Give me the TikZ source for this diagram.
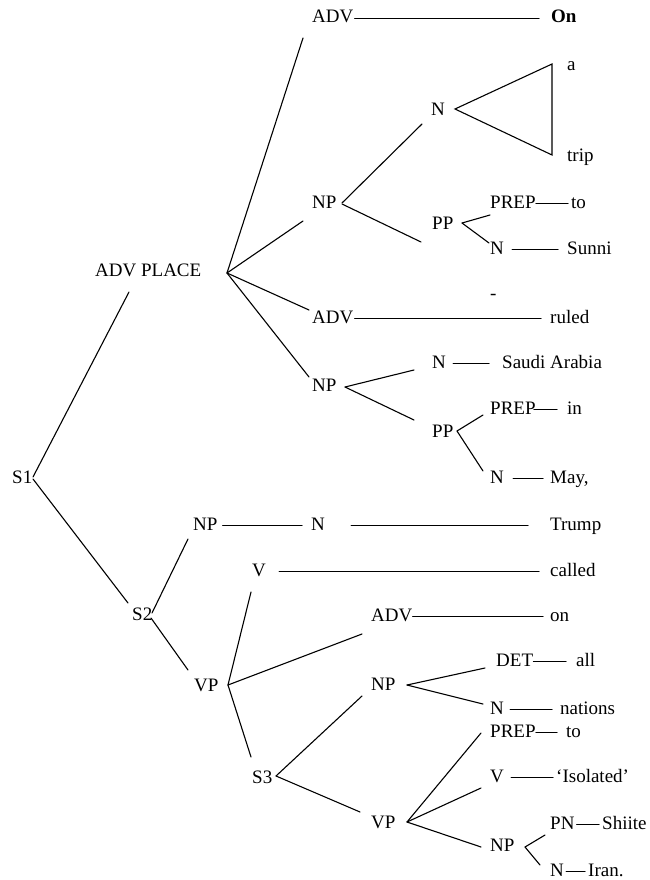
\documentclass[tikz,border=0pt]{standalone}
\usepackage{fontspec}
\setmainfont{Liberation Serif}
\usetikzlibrary{calc}
\begin{document}
\begin{tikzpicture}[x=1pt,y=-1pt,
  lab/.style={inner sep=0pt, anchor=base west, text height=13pt, text depth=4pt,
              font=\fontsize{19}{21}\selectfont},
  edge/.style={line width=1.1pt, line cap=round},
]
\fill[white] (0,0) rectangle (649,880);
\useasboundingbox (0,0) rectangle (649,880);

% ---------- labels and words ----------
\node[lab] (s1) at (12,483) {S1};
\node[lab] (advpl) at (95,276) {ADV PLACE};

\node[lab] (adv1) at (312,23) {ADV};
\node[lab,font=\fontsize{19}{21}\selectfont\bfseries] (on) at (551,23) {On};

\node[lab] (wa) at (567,71) {a};
\node[lab] (n1) at (431,116) {N};
\node[lab] (wtrip) at (567,161) {trip};

\node[lab] (np1) at (312,208) {NP};
\node[lab] (prep1) at (490,208) {PREP};
\node[lab] (to1) at (571,208) {to};
\node[lab] (pp1) at (432,229) {PP};
\node[lab] (n2) at (490,254) {N};
\node[lab] (sunni) at (567,254) {Sunni};

\node[lab] (dash) at (490,299) {-};
\node[lab] (adv2) at (312,323) {ADV};
\node[lab] (ruled) at (550,323) {ruled};

\node[lab] (n3) at (432,368) {N};
\node[lab] (saudi) at (502,368) {Saudi Arabia};
\node[lab] (np2) at (312,391) {NP};
\node[lab] (prep2) at (490,414) {PREP};
\node[lab] (in) at (567,414) {in};
\node[lab] (pp2) at (432,437) {PP};
\node[lab] (n4) at (490,483) {N};
\node[lab] (may) at (550,483) {May,};

\node[lab] (np3) at (193,530) {NP};
\node[lab] (n5) at (311,530) {N};
\node[lab] (trump) at (550,530) {Trump};
\node[lab] (v1) at (252,576) {V};
\node[lab] (called) at (550,576) {called};
\node[lab] (s2) at (132,620) {S2};
\node[lab] (adv3) at (371,621) {ADV};
\node[lab] (on2) at (550,621) {on};

\node[lab] (det) at (496,666) {DET};
\node[lab] (all) at (576,666) {all};
\node[lab] (np4) at (371,690) {NP};
\node[lab] (vp1) at (194,691) {VP};
\node[lab] (n6) at (490,714) {N};
\node[lab] (nations) at (560,714) {nations};
\node[lab] (prep3) at (490,737) {PREP};
\node[lab] (to2) at (566,737) {to};
\node[lab] (v2) at (490,782) {V};
\node[lab] (isolated) at (556,782) {‘Isolated’};
\node[lab] (s3) at (252,783) {S3};
\node[lab] (vp2) at (371,828) {VP};
\node[lab] (pn) at (550,829) {PN};
\node[lab] (shiite) at (602,829) {Shiite};
\node[lab] (np5) at (490,851) {NP};
\node[lab] (n7) at (550,876) {N};
\node[lab] (iran) at (588,876) {Iran.};

% ---------- branches ----------
\draw[edge] ($(s1.base west)+(21,-6)$) -- ($(advpl.base west)+(34,16)$);
\draw[edge] ($(s1.base west)+(21,-4)$) -- ($(s2.base west)+(-4,-17)$);

\draw[edge] ($(advpl.base west)+(132,-3)$) -- ($(adv1.base west)+(-9,15)$);
\draw[edge] ($(advpl.base west)+(132,-3)$) -- ($(np1.base west)+(-9,13)$);
\draw[edge] ($(advpl.base west)+(132,-3)$) -- ($(adv2.base west)+(-3,-13)$);
\draw[edge] ($(advpl.base west)+(132,-3)$) -- ($(np2.base west)+(-3,-14)$);

\draw[edge] ($(np1.base west)+(30,-5)$) -- ($(n1.base west)+(-9,8)$);
\draw[edge] ($(np1.base west)+(30,-4)$) -- ($(pp1.base west)+(-11,13)$);
\draw[edge,line join=miter] ($(n1.base west)+(24,-7)$) -- ($(wa.base west)+(-15,-7)$)
   -- ($(wtrip.base west)+(-15,-6)$) -- cycle;
\draw[edge] ($(pp1.base west)+(30,-6)$) -- ($(prep1.base west)+(0,7)$);
\draw[edge] ($(pp1.base west)+(30,-6)$) -- ($(n2.base west)+(-1,-11)$);

\draw[edge] ($(np2.base west)+(33,-4)$) -- ($(n3.base west)+(-18,2)$);
\draw[edge] ($(np2.base west)+(33,-4)$) -- ($(pp2.base west)+(-18,-17)$);
\draw[edge] ($(pp2.base west)+(25,-6)$) -- ($(prep2.base west)+(-7,1)$);
\draw[edge] ($(pp2.base west)+(25,-6)$) -- ($(n4.base west)+(-7,-12)$);

\draw[edge] ($(s2.base west)+(20,-7)$) -- ($(np3.base west)+(-5,9)$);
\draw[edge] ($(s2.base west)+(19,-2)$) -- ($(vp1.base west)+(-6,-21)$);
\draw[edge] ($(vp1.base west)+(34,-6)$) -- ($(v1.base west)+(-1,16)$);
\draw[edge] ($(vp1.base west)+(34,-6)$) -- ($(adv3.base west)+(-9,13)$);
\draw[edge] ($(vp1.base west)+(34,-6)$) -- ($(s3.base west)+(-1,-26)$);
\draw[edge] ($(s3.base west)+(24,-7)$) -- ($(np4.base west)+(-9,6)$);
\draw[edge] ($(s3.base west)+(24,-7)$) -- ($(vp2.base west)+(-11,-16)$);
\draw[edge] ($(np4.base west)+(36,-5)$) -- ($(det.base west)+(-11,2)$);
\draw[edge] ($(np4.base west)+(36,-5)$) -- ($(n6.base west)+(-7,-10)$);
\draw[edge] ($(vp2.base west)+(36,-6)$) -- ($(prep3.base west)+(-9,-4)$);
\draw[edge] ($(vp2.base west)+(36,-6)$) -- ($(v2.base west)+(-9,6)$);
\draw[edge] ($(vp2.base west)+(36,-6)$) -- ($(np5.base west)+(-9,-4)$);
\draw[edge] ($(np5.base west)+(35,-4)$) -- ($(pn.base west)+(-5,6)$);
\draw[edge] ($(np5.base west)+(35,-4)$) -- ($(n7.base west)+(-10,-11)$);

% ---------- label-to-word rules ----------
\draw[edge] ([xshift=1pt]adv1.east) -- ([xshift=-12pt]on.west);
\draw[edge] (prep1.east) -- ([xshift=-3pt]to1.west);
\draw[edge] ([xshift=8pt]n2.east) -- ([xshift=-9pt]sunni.west);
\draw[edge] ([xshift=1pt]adv2.east) -- ([xshift=-9pt]ruled.west);
\draw[edge] ([xshift=7pt]n3.east) -- ([xshift=-13pt]saudi.west);
\draw[edge] ([xshift=-2pt]prep2.east) -- ([xshift=-10pt]in.west);
\draw[edge] ([xshift=9pt]n4.east) -- ([xshift=-7pt]may.west);
\draw[edge] ([xshift=5pt]np3.east) -- ([xshift=-9pt]n5.west);
\draw[edge] ([xshift=26pt]n5.east) -- ([xshift=-22pt]trump.west);
\draw[edge] ([xshift=13pt]v1.east) -- ([xshift=-11pt]called.west);
\draw[edge] (adv3.east) -- ([xshift=-7pt]on2.west);
\draw[edge] (det.east) -- ([xshift=-10pt]all.west);
\draw[edge] ([xshift=6pt]n6.east) -- ([xshift=-8pt]nations.west);
\draw[edge] (prep3.east) -- ([xshift=-9pt]to2.west);
\draw[edge] ([xshift=7pt]v2.east) -- ([xshift=-3pt]isolated.west);
\draw[edge] ([xshift=2pt]pn.east) -- ([xshift=-3pt]shiite.west);
\draw[edge] ([xshift=2pt]n7.east) -- ([xshift=-3pt]iran.west);
\end{tikzpicture}
\end{document}
